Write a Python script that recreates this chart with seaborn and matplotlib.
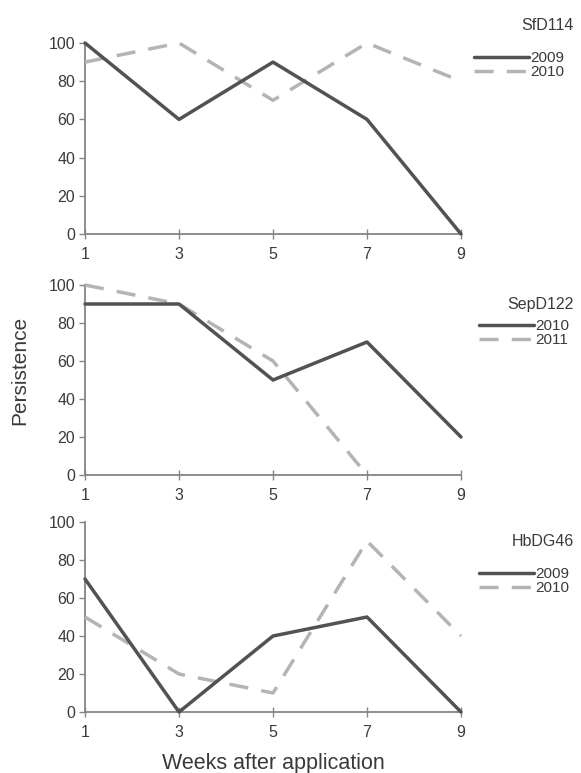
import numpy as np
import pandas as pd
import matplotlib
matplotlib.use("Agg")
import matplotlib.pyplot as plt
import seaborn as sns

# Persistence of each isolate over the weeks after application
weeks = [1, 3, 5, 7, 9]

isolates = ["SfD114", "SepD122", "HbDG46"]
years = [["2009", "2010"], ["2010", "2011"], ["2009", "2010"]]

sfd114_2009 = [100, 60, 90, 60, 0]
sfd114_2010 = [90, 100, 70, 100, 80]
sepd122_2010 = [90, 90, 50, 70, 20]
sepd122_2011 = [100, 90, 60, 0, np.nan]
hbdg46_2009 = [70, 0, 40, 50, 0]
hbdg46_2010 = [50, 20, 10, 90, 40]

series = [
    (sfd114_2009, sfd114_2010),
    (sepd122_2010, sepd122_2011),
    (hbdg46_2009, hbdg46_2010),
]

yticks = [0, 20, 40, 60, 80, 100]

sns.set_style("ticks")
plt.rcParams["font.family"] = ["Liberation Sans", "DejaVu Sans"]
plt.rcParams["text.color"] = "#3a3a3a"
plt.rcParams["xtick.color"] = "#7a7a7a"
plt.rcParams["ytick.color"] = "#7a7a7a"
plt.rcParams["xtick.labelcolor"] = "#3a3a3a"
plt.rcParams["ytick.labelcolor"] = "#3a3a3a"

W, H = 581, 773
fig = plt.figure(figsize=(W / 100, H / 100), dpi=100)

solid_color = "#525252"
dash_color = "#b4b4b4"
axis_color = "#858585"

# panel frames in pixel rows (top of 100, bottom at 0)
left_px, right_px = 85, 461
panel_rows = [(43, 234), (285, 475), (522, 712)]
title_rows = [25, 304, 542]
legend_tops = [51, 319, 567]
legend_left = [474, 479, 479]

for i, (name, yrs, (s1, s2)) in enumerate(zip(isolates, years, series)):
    top, bot = panel_rows[i]
    ax = fig.add_axes([left_px / W, 1 - bot / H,
                       (right_px - left_px) / W, (bot - top) / H])
    df = pd.DataFrame({
        "week": weeks * 2,
        "value": list(s1) + list(s2),
        "year": [yrs[0]] * len(weeks) + [yrs[1]] * len(weeks),
    }).dropna()

    sns.lineplot(data=df[df["year"] == yrs[0]], x="week", y="value",
                 color=solid_color, linewidth=2.5, label=yrs[0], ax=ax,
                 clip_on=False, zorder=4)
    sns.lineplot(data=df[df["year"] == yrs[1]], x="week", y="value",
                 color=dash_color, linewidth=2.5, label=yrs[1], ax=ax,
                 clip_on=False, zorder=3)
    ax.lines[1].set_linestyle((0, (5.5, 3.8)))

    ax.set_xlim(1, 9)
    ax.set_ylim(0, 100)
    ax.set_xticks(weeks)
    ax.set_yticks(yticks)
    ax.set_xlabel("")
    ax.set_ylabel("")
    ax.tick_params(axis="both", labelsize=11.5, length=4, width=1,
                   color=axis_color, pad=3)
    ax.tick_params(axis="x", direction="inout", length=7, pad=6)
    for side in ("top", "right"):
        ax.spines[side].set_visible(False)
    for side in ("left", "bottom"):
        ax.spines[side].set_color(axis_color)
        ax.spines[side].set_linewidth(1.3)

    handles, labels = ax.get_legend_handles_labels()
    leg = ax.legend(handles, labels, loc="upper left",
                    bbox_to_anchor=(legend_left[i] / W, 1 - legend_tops[i] / H),
                    bbox_transform=fig.transFigure, frameon=False,
                    fontsize=11, handlelength=3.6, handletextpad=0.1,
                    labelspacing=0.0, borderpad=0, borderaxespad=0)
    for line in leg.get_lines():
        line.set_linewidth(2.5)
    fig.text(574 / W, 1 - title_rows[i] / H, name, ha="right", va="center",
             fontsize=11.5)

fig.text(20 / W, 1 - 370 / H, "Persistence", rotation=90,
         ha="center", va="center", fontsize=15)
fig.text(273 / W, 1 - 763 / H, "Weeks after application",
         ha="center", va="center", fontsize=15.5)

fig.savefig("out.png", dpi=100)
